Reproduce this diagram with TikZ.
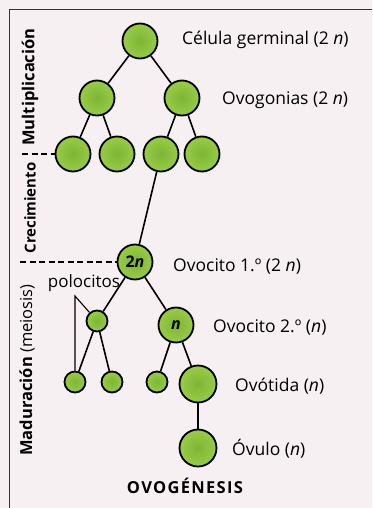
\documentclass[tikz,border=0pt]{standalone}
\usepackage{fontspec}
\setmainfont{Open Sans}
\newfontfamily\titlefont[LetterSpace=8]{Open Sans}
\definecolor{bgpaper}{HTML}{F7F0F3}
\definecolor{cellout}{HTML}{98CC45}
\definecolor{cellin}{HTML}{7DB535}
\definecolor{framegray}{HTML}{333333}
\tikzset{
  cell/.style={circle, draw=black, line width=1.8pt, inner sep=0pt, minimum size=#1,
    inner color=cellin, outer color=cellout},
  big/.style={cell=35pt},
  small/.style={cell=21pt},
  link/.style={draw=black, line width=1.6pt},
  sep/.style={draw=black, line width=1.2pt, dash pattern=on 6pt off 3.5pt},
  lab/.style={anchor=west, font=\fontsize{17.5}{20}\selectfont, inner sep=0pt},
  side/.style={rotate=90, inner sep=0pt},
}
\begin{document}
\begin{tikzpicture}[x=1pt,y=-1pt]
\useasboundingbox (0,0) rectangle (372,508);
\fill[bgpaper] (0,0) rectangle (372,508);
% frame
\draw[framegray, line width=1.1pt] (372,9.5) -- (9.5,9.5) -- (9.5,508);

% cells
\node[big] (g)  at (140,41) {};
\node[big] (o1) at (97,98) {};
\node[big] (o2) at (182,98) {};
\node[big] (c1) at (73,154) {};
\node[big] (c2) at (117,154) {};
\node[big] (c3) at (161,154) {};
\node[big] (c4) at (202,154) {};
\node[big] (p1) at (135,262) {\fontsize{16}{16}\selectfont\bfseries 2\textit{n}};
\node[small] (pol) at (97,321) {};
\node[big] (p2) at (176,325) {\fontsize{16}{16}\selectfont\bfseries\textit{n}};
\node[small] (s1) at (75,382) {};
\node[small] (s2) at (112,382) {};
\node[small] (s3) at (157,382) {};
\node[cell=37pt] (ot) at (198,384) {};
\node[cell=37pt] (ov) at (198,448) {};

% connectors
\draw[link] (g) -- (o1);
\draw[link] (g) -- (o2);
\draw[link] (o1) -- (c1);
\draw[link] (o1) -- (c2);
\draw[link] (o2) -- (c3);
\draw[link] (o2) -- (c4);
\draw[link] (c3) -- (p1);
\draw[link] (p1) -- (pol);
\draw[link] (p1) -- (p2);
\draw[link] (pol) -- (s1);
\draw[link] (pol) -- (s2);
\draw[link] (p2) -- (s3);
\draw[link] (p2) -- (ot);
\draw[link] (ot) -- (ov);

% polocitos pointer
\node[anchor=center, inner sep=0pt, font=\fontsize{17}{20}\selectfont] (poltxt) at (84,283) {polocitos};
\coordinate (pp) at (75,296);
\draw[line width=1.1pt] (pol) -- (pp) -- (s1);

% separators
\draw[sep] (22,154) -- (c1);
\draw[sep] (20,262) -- (p1);

% labels
\node[lab] (lg)  at (182,40)  {Célula germinal (2 \textit{n})};
\node[lab] (lo)  at (222,100) {Ovogonias (2 \textit{n})};
\node[lab] (l1)  at (173,266) {Ovocito 1.º (2 \textit{n})};
\node[lab] (l2)  at (213,327) {Ovocito 2.º (\textit{n})};
\node[lab] (lt)  at (235,386) {Ovótida (\textit{n})};
\node[lab] (lv)  at (232,449) {Óvulo (\textit{n})};
\node[inner sep=0pt, font=\titlefont\fontsize{16.5}{18}\selectfont\bfseries] (title) at (185,486) {OVOGÉNESIS};

% side labels
\node[side, font=\fontsize{16.5}{20}\selectfont] (sm) at (30,87)  {\bfseries Multiplicación};
\node[side, font=\fontsize{15}{20}\selectfont] (sc) at (30,208) {\bfseries Crecimiento};
\node[side, font=\fontsize{16.5}{20}\selectfont] (sd) at (27,370) {\textbf{Maduración} (meiosis)};
\end{tikzpicture}
\end{document}
